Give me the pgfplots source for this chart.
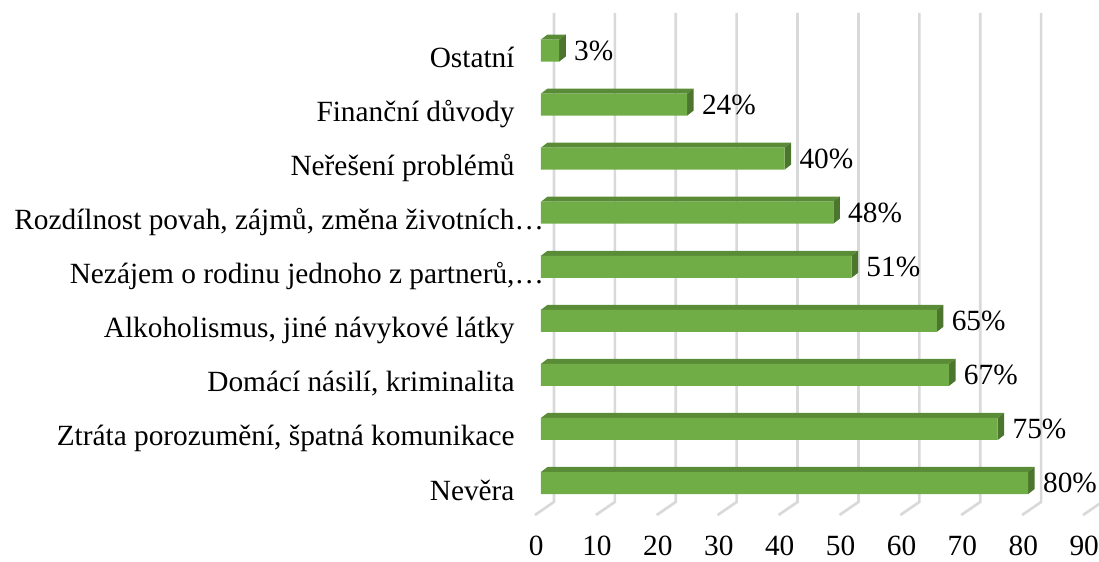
\documentclass[border=0pt]{standalone}
\usepackage{pgfplots}
\pgfplotsset{compat=1.18}
\usepackage{pgfplotstable}
\usepackage{fontspec}
\setmainfont{Liberation Serif}
\definecolor{barfront}{RGB}{112,173,71}
\definecolor{bartop}{RGB}{90,140,56}
\definecolor{barside}{RGB}{76,118,45}
\definecolor{gridc}{RGB}{217,217,217}

\pgfplotstableread{
y v
0 80
1 75
2 67
3 65
4 51
5 48
6 40
7 24
8 3
}\datatable

\def\hh{0.2035}
\def\dxu{1.07}
\def\dyu{0.0925}
\newcommand{\barfaces}[2]{%
  \pgfmathsetmacro{\yb}{#1-\hh}%
  \pgfmathsetmacro{\yt}{#1+\hh}%
  \pgfmathsetmacro{\ytt}{#1+\hh+\dyu}%
  \pgfmathsetmacro{\ybb}{#1-\hh+\dyu}%
  \pgfmathsetmacro{\xe}{#2+\dxu}%
  \edef\tmp{%
    \noexpand\addplot[fill=bartop, draw=none, forget plot] coordinates {(0,\yt) (#2,\yt) (\xe,\ytt) (\dxu,\ytt)};
    \noexpand\addplot[fill=barside, draw=none, forget plot] coordinates {(#2,\yb) (\xe,\ybb) (\xe,\ytt) (#2,\yt)};
  }\tmp
}

\begin{document}
\begin{tikzpicture}
\begin{axis}[
  x=4.5675pt, y=40.545pt,
  xmin=-4.3, xmax=93,
  ymin=-0.6, ymax=8.9,
  clip=false,
  axis line style={draw=none},
  major tick length=0pt,
  tick style={draw=none},
  xtick={-0.8,9.2,19.2,29.2,39.2,49.2,59.2,69.2,79.2,89.2},
  xticklabels={0,10,20,30,40,50,60,70,80,90},
  ytick={0,1,2,3,4,5,6,7,8},
  yticklabels={Nevěra,{Ztráta porozumění, špatná komunikace},{Domácí násilí, kriminalita},{Alkoholismus, jiné návykové látky},{Nezájem o rodinu jednoho z partnerů,\rlap{…}},{Rozdílnost povah, zájmů, změna životních\rlap{…}},{Neřešení problémů},{Finanční důvody},{Ostatní}},
  /pgf/number format/assume math mode=true,
  ticklabel style={font=\fontsize{22}{26}\selectfont},
  xticklabel style={anchor=center, yshift=-23pt, inner sep=0pt},
  yticklabel style={anchor=base east, inner sep=0pt, yshift=-12.75pt},
  xtick pos=bottom, ytick pos=left,
]
% gridlines (back wall + floor)
\addplot[gridc, line width=2pt, forget plot] coordinates {(2.13,8.694) (2.13,-0.351) (-0.99,-0.592)};
\addplot[gridc, line width=2pt, forget plot] coordinates {(12.13,8.694) (12.13,-0.351) (9.01,-0.592)};
\addplot[gridc, line width=2pt, forget plot] coordinates {(22.13,8.694) (22.13,-0.351) (19.01,-0.592)};
\addplot[gridc, line width=2pt, forget plot] coordinates {(32.13,8.694) (32.13,-0.351) (29.01,-0.592)};
\addplot[gridc, line width=2pt, forget plot] coordinates {(42.13,8.694) (42.13,-0.351) (39.01,-0.592)};
\addplot[gridc, line width=2pt, forget plot] coordinates {(52.13,8.694) (52.13,-0.351) (49.01,-0.592)};
\addplot[gridc, line width=2pt, forget plot] coordinates {(62.13,8.694) (62.13,-0.351) (59.01,-0.592)};
\addplot[gridc, line width=2pt, forget plot] coordinates {(72.13,8.694) (72.13,-0.351) (69.01,-0.592)};
\addplot[gridc, line width=2pt, forget plot] coordinates {(82.13,8.694) (82.13,-0.351) (79.01,-0.592)};
\addplot[gridc, line width=2pt, forget plot] coordinates {(92.13,8.694) (92.13,-0.351) (89.01,-0.592)};
% 3D faces
\pgfplotsinvokeforeach{0,...,8}{%
  \pgfplotstablegetelem{#1}{v}\of\datatable
  \let\val\pgfplotsretval
  \barfaces{#1}{\val}
}
% front faces
\addplot[xbar, bar width=16.5pt, fill=barfront, draw=none,
  nodes near coords={\pgfmathprintnumber{\pgfplotspointmeta}\%},
  nodes near coords style={anchor=west, inner sep=0pt, xshift=11pt, font=\fontsize{22}{26}\selectfont, /pgf/number format/assume math mode=true}]
  table[x=v, y=y] {\datatable};
\coordinate (bbll) at (axis cs:-88.83,-1.443);
\coordinate (bbur) at (axis cs:91.63,8.9345);
\end{axis}
\pgfresetboundingbox
\useasboundingbox (bbll) rectangle (bbur);
\end{tikzpicture}
\end{document}
